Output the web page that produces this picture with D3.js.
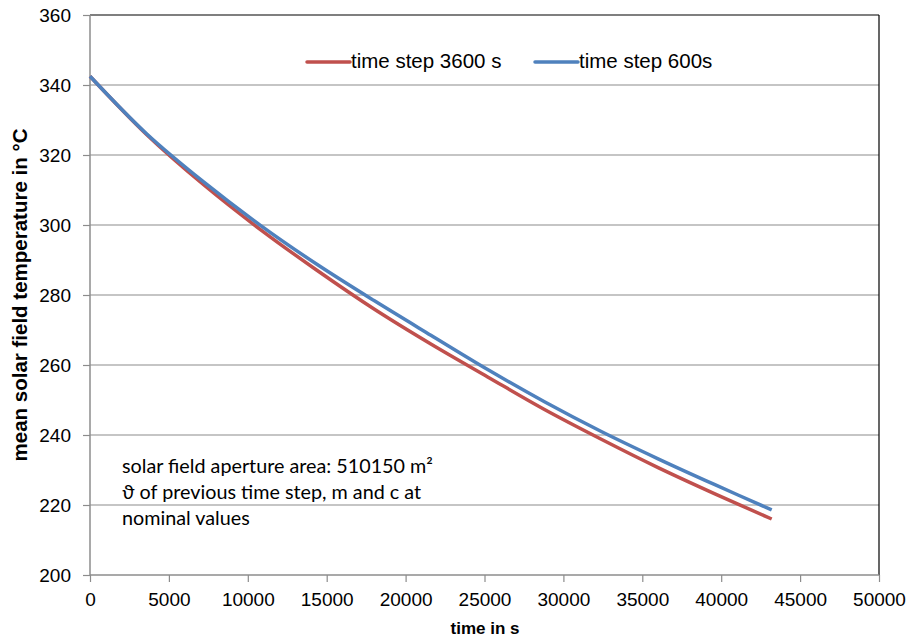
<!DOCTYPE html>
<html><head><meta charset="utf-8">
<script src="https://cdn.jsdelivr.net/npm/d3@7"></script>
<style>body{margin:0;background:#fff}svg{display:block}</style>
</head><body>
<svg id="c" width="907" height="641"></svg>
<script>
const timeSec = [0,3600,7200,10800,14400,18000,21600,25200,28800,32400,36000,39600,43200];
const temp3600 = [342.5,325.8,311.5,298.7,287.0,276.0,266.0,256.6,247.3,238.8,230.7,223.2,216.0];
const temp600  = [342.5,326.0,312.3,299.9,288.7,278.4,268.5,258.7,249.5,241.0,233.2,225.8,218.6];
const seriesNames = ["time step 3600 s","time step 600s"];
const xTicks = [0,5000,10000,15000,20000,25000,30000,35000,40000,45000,50000];
const yTicks = [200,220,240,260,280,300,320,340,360];
const noteLines = ["solar field aperture area: 510150 m²","ϑ of previous time step, m and c at","nominal values"];

const svg = d3.select("#c");
const L=90,R=879,T=15,B=575;
const x = d3.scaleLinear().domain([0,50000]).range([L,R]);
const y = d3.scaleLinear().domain([200,360]).range([B,T]);
const font = "'Liberation Sans', Arial, sans-serif";

// gridlines
svg.append("g").selectAll("line").data(yTicks.filter(v=>v>200&&v<360)).join("line")
  .attr("x1",L).attr("x2",R).attr("y1",d=>y(d)).attr("y2",d=>y(d))
  .attr("stroke","#8c8c8c").attr("stroke-width",1.2);
// top and right border
svg.append("line").attr("x1",L).attr("x2",R).attr("y1",T).attr("y2",T).attr("stroke","#000").attr("stroke-width",1.2);
svg.append("line").attr("x1",R).attr("x2",R).attr("y1",T).attr("y2",B).attr("stroke","#000").attr("stroke-width",1.2);

// axes
const yAxis = d3.axisLeft(y).tickValues(yTicks).tickSize(7).tickPadding(12);
const gy = svg.append("g").attr("transform",`translate(${L},0)`).call(yAxis);
const xAxis = d3.axisBottom(x).tickValues(xTicks).tickSize(7).tickPadding(11).tickFormat(d3.format("d"));
const gx = svg.append("g").attr("transform",`translate(0,${B})`).call(xAxis);
[gx,gy].forEach(g=>{
  g.selectAll("path").attr("stroke","#8c8c8c").attr("stroke-width",1.5);
  g.selectAll("line").attr("stroke","#8c8c8c").attr("stroke-width",1.2);
  g.selectAll("text").attr("font-family",font).attr("font-size",19).attr("fill","#000");
});
gy.select(".domain").attr("d",`M0,${T}V${B}`);
gx.select(".domain").attr("d",`M${L},0H${R}`);

// lines
const line = d3.line().x((d,i)=>x(timeSec[i])).y(d=>y(d)).curve(d3.curveCatmullRom);
const colors = ["#C0504D","#4F81BD"];
[temp3600,temp600].forEach((s,k)=>{
  svg.append("path").attr("d",line(s)).attr("fill","none")
    .attr("stroke",colors[k]).attr("stroke-width",3.5).attr("stroke-linecap","butt");
});

// legend
const leg = [{x:307,c:colors[0],t:seriesNames[0]},{x:535,c:colors[1],t:seriesNames[1]}];
leg.forEach(l=>{
  svg.append("line").attr("x1",l.x).attr("x2",l.x+43).attr("y1",62).attr("y2",62)
    .attr("stroke",l.c).attr("stroke-width",3.5).attr("stroke-linecap","round");
  svg.append("text").attr("x",l.x+44).attr("y",68).attr("font-family",font).attr("font-size",20.5).text(l.t);
});

// axis titles
svg.append("text").attr("x",485).attr("y",634).attr("text-anchor","middle")
  .attr("font-family",font).attr("font-size",17).attr("font-weight","bold").text("time in s");
svg.append("text").attr("transform",`translate(27,${(T+B)/2}) rotate(-90)`).attr("text-anchor","middle")
  .attr("font-family",font).attr("font-size",20.5).attr("font-weight","bold").text("mean solar field temperature in °C");

// note
const noteFont = "Lato, 'Open Sans', sans-serif";
const nt = noteLines.map((t,i)=>svg.append("text").attr("x",122).attr("y",473+i*26)
  .attr("font-family",noteFont).attr("font-size",18).text(t));
const w0 = nt[0].node().getComputedTextLength();
const fs = 18*311/w0;
nt.forEach(n=>n.attr("font-size",fs));
</script>
</body></html>
